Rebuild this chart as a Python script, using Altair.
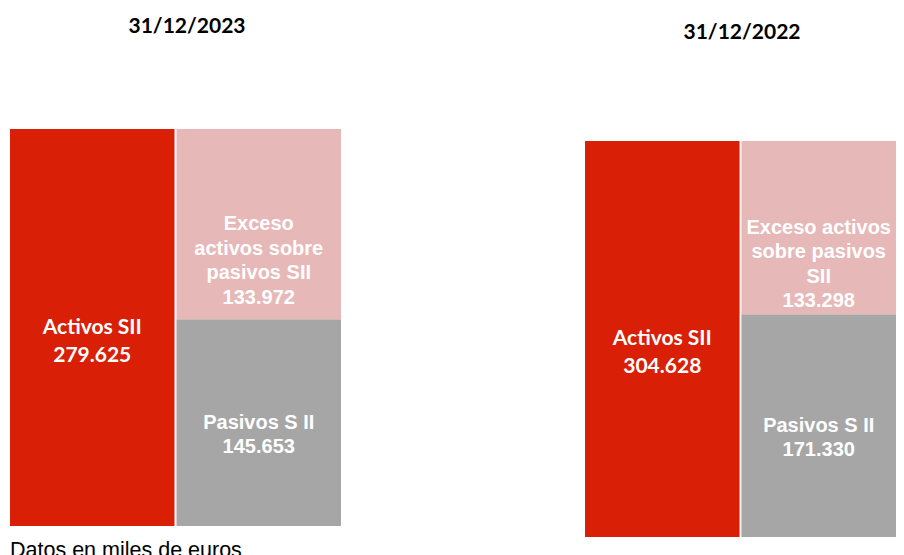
import altair as alt
import pandas as pd

# ---- data ----
periods = ["31/12/2023", "31/12/2022"]
activos = [279625, 304628]
pasivos = [145653, 171330]
exceso = [133972, 133298]
activos_label = "Activos SII"
pasivos_label = "Pasivos S II"
exceso_labels = ["Exceso\nactivos sobre\npasivos SII", "Exceso activos\nsobre pasivos\nSII"]
footnote = "Datos en miles de euros"

RED = "#D91F05"
PINK = "#E6B8B7"
GRAY = "#A6A6A6"


def fmt(v):
    return f"{v:,}".replace(",", ".")


def panel(i, width, height, top, title_x, title_y, with_note):
    df = pd.DataFrame({
        "col": ["A", "B", "B"],
        "segment": ["activos", "pasivos", "exceso"],
        "start": [0, 0, pasivos[i]],
        "end": [activos[i], pasivos[i], pasivos[i] + exceso[i]],
        "label": [
            f"{activos_label}\n{fmt(activos[i])}",
            f"{pasivos_label}\n{fmt(pasivos[i])}",
            f"{exceso_labels[i]}\n{fmt(exceso[i])}",
        ],
    })
    xs = alt.Scale(domain=["A", "B"], paddingInner=0.012, paddingOuter=0)
    ys = alt.Scale(domain=[0, activos[i]], range=[height, top], nice=False, zero=True)
    base = alt.Chart(df).transform_calculate(mid="(datum.start + datum.end) / 2")
    bars = base.mark_bar(cornerRadius=0).encode(
        x=alt.X("col:N", scale=xs, axis=None),
        y=alt.Y("start:Q", scale=ys, axis=None),
        y2="end:Q",
        color=alt.Color("segment:N",
                        scale=alt.Scale(domain=["activos", "pasivos", "exceso"],
                                        range=[RED, GRAY, PINK]),
                        legend=None),
    )
    txt_red = base.transform_filter("datum.segment == 'activos'").mark_text(
        color="white", font="Lato", fontWeight="bold", fontSize=21,
        lineBreak="\n", lineHeight=28, baseline="middle", align="center"
    ).encode(x=alt.X("col:N", scale=xs, axis=None, bandPosition=0.5),
             y=alt.Y("mid:Q", scale=ys, axis=None), text="label:N")
    txt_other = base.transform_filter("datum.segment != 'activos'").mark_text(
        color="white", font="Liberation Sans", fontWeight="bold", fontSize=20,
        lineBreak="\n", lineHeight=24.5, baseline="middle", align="center"
    ).encode(x=alt.X("col:N", scale=xs, axis=None, bandPosition=0.5),
             y=alt.Y("mid:Q", scale=ys, axis=None), text="label:N")
    title = alt.Chart(pd.DataFrame({"t": [periods[i]]})).mark_text(
        font="Lato", fontWeight="bold", fontSize=21, color="#000000",
        baseline="middle", align="center"
    ).encode(x=alt.value(title_x), y=alt.value(title_y), text="t:N")
    layers = [bars, txt_red, txt_other, title]
    if with_note:
        note = alt.Chart(pd.DataFrame({"t": [footnote]})).mark_text(
            font="Liberation Sans", fontSize=21.5, color="#000000",
            baseline="alphabetic", align="left"
        ).encode(x=alt.value(0), y=alt.value(height + 31), text="t:N")
        layers.append(note)
    return alt.layer(*layers).properties(width=width, height=height)


left = panel(0, 331, 518, 121, 177, 19, True)
right = panel(1, 311, 529, 133, 157, 25, False)

chart = alt.hconcat(left, right, spacing=244).properties(
    padding={"left": 2, "top": 0, "right": 0, "bottom": 0}
).configure_view(stroke=None)

chart.save("out.html", embed_options={"renderer": "svg", "actions": False})
